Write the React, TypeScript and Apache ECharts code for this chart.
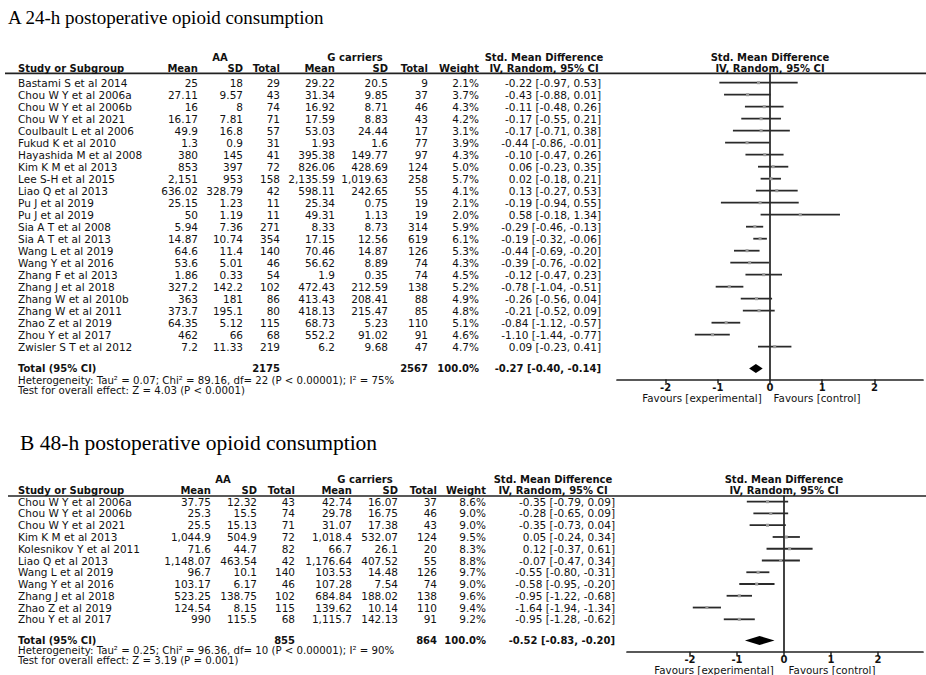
import React, { useEffect, useRef } from "react";
import * as echarts from "echarts";

// ---------- Panel A: 24-h ----------
const studiesA = [
  "Bastami S et al 2014", "Chou W Y et al 2006a", "Chou W Y et al 2006b", "Chou W Y et al 2021",
  "Coulbault L et al 2006", "Fukud K et al 2010", "Hayashida M et al 2008", "Kim K M et al 2013",
  "Lee S-H et al 2015", "Liao Q et al 2013", "Pu J et al 2019", "Pu J et al 2019",
  "Sia A T et al 2008", "Sia A T et al 2013", "Wang L et al 2019", "Wang Y et al 2016",
  "Zhang F et al 2013", "Zhang J et al 2018", "Zhang W et al 2010b", "Zhang W et al 2011",
  "Zhao Z et al 2019", "Zhou Y et al 2017", "Zwisler S T et al 2012",
];
const aaMeanA = [25, 27.11, 16, 16.17, 49.9, 1.3, 380, 853, 2151, 636.02, 25.15, 50, 5.94, 14.87, 64.6, 53.6, 1.86, 327.2, 363, 373.7, 64.35, 462, 7.2];
const aaSdA = [18, 9.57, 8, 7.81, 16.8, 0.9, 145, 397, 953, 328.79, 1.23, 1.19, 7.36, 10.74, 11.4, 5.01, 0.33, 142.2, 181, 195.1, 5.12, 66, 11.33];
const aaNA = [29, 43, 74, 71, 57, 31, 41, 72, 158, 42, 11, 11, 271, 354, 140, 46, 54, 102, 86, 80, 115, 68, 219];
const gMeanA = [29.22, 31.34, 16.92, 17.59, 53.03, 1.93, 395.38, 826.06, 2135.59, 598.11, 25.34, 49.31, 8.33, 17.15, 70.46, 56.62, 1.9, 472.43, 413.43, 418.13, 68.73, 552.2, 6.2];
const gSdA = [20.5, 9.85, 8.71, 8.83, 24.44, 1.6, 149.77, 428.69, 1019.63, 242.65, 0.75, 1.13, 8.73, 12.56, 14.87, 8.89, 0.35, 212.59, 208.41, 215.47, 5.23, 91.02, 9.68];
const gNA = [9, 37, 46, 43, 17, 77, 97, 124, 258, 55, 19, 19, 314, 619, 126, 74, 74, 138, 88, 85, 110, 91, 47];
const weightA = [2.1, 3.7, 4.3, 4.2, 3.1, 3.9, 4.3, 5.0, 5.7, 4.1, 2.1, 2.0, 5.9, 6.1, 5.3, 4.3, 4.5, 5.2, 4.9, 4.8, 5.1, 4.6, 4.7];
const smdA = [-0.22, -0.43, -0.11, -0.17, -0.17, -0.44, -0.10, 0.06, 0.02, 0.13, -0.19, 0.58, -0.29, -0.19, -0.44, -0.39, -0.12, -0.78, -0.26, -0.21, -0.84, -1.10, 0.09];
const loA = [-0.97, -0.88, -0.48, -0.55, -0.71, -0.86, -0.47, -0.23, -0.18, -0.27, -0.94, -0.18, -0.46, -0.32, -0.69, -0.76, -0.47, -1.04, -0.56, -0.52, -1.12, -1.44, -0.23];
const hiA = [0.53, 0.01, 0.26, 0.21, 0.38, -0.01, 0.26, 0.35, 0.21, 0.53, 0.55, 1.34, -0.13, -0.06, -0.20, -0.02, 0.23, -0.51, 0.04, 0.09, -0.57, -0.77, 0.41];
const totalA = { aaN: 2175, gN: 2567, smd: -0.27, lo: -0.40, hi: -0.14 };
const hetA = "Heterogeneity: Tau² = 0.07; Chi² = 89.16, df= 22 (P < 0.00001); I² = 75%";
const testA = "Test for overall effect: Z = 4.03 (P < 0.0001)";

// ---------- Panel B: 48-h ----------
const studiesB = [
  "Chou W Y et al 2006a", "Chou W Y et al 2006b", "Chou W Y et al 2021", "Kim K M et al 2013",
  "Kolesnikov Y et al 2011", "Liao Q et al 2013", "Wang L et al 2019", "Wang Y et al 2016",
  "Zhang J et al 2018", "Zhao Z et al 2019", "Zhou Y et al 2017",
];
const aaMeanB = [37.75, 25.3, 25.5, 1044.9, 71.6, 1148.07, 96.7, 103.17, 523.25, 124.54, 990];
const aaSdB = [12.32, 15.5, 15.13, 504.9, 44.7, 463.54, 10.1, 6.17, 138.75, 8.15, 115.5];
const aaNB = [43, 74, 71, 72, 82, 42, 140, 46, 102, 115, 68];
const gMeanB = [42.74, 29.78, 31.07, 1018.4, 66.7, 1176.64, 103.53, 107.28, 684.84, 139.62, 1115.7];
const gSdB = [16.07, 16.75, 17.38, 532.07, 26.1, 407.52, 14.48, 7.54, 188.02, 10.14, 142.13];
const gNB = [37, 46, 43, 124, 20, 55, 126, 74, 138, 110, 91];
const weightB = [8.6, 9.0, 9.0, 9.5, 8.3, 8.8, 9.7, 9.0, 9.6, 9.4, 9.2];
const smdB = [-0.35, -0.28, -0.35, 0.05, 0.12, -0.07, -0.55, -0.58, -0.95, -1.64, -0.95];
const loB = [-0.79, -0.65, -0.73, -0.24, -0.37, -0.47, -0.80, -0.95, -1.22, -1.94, -1.28];
const hiB = [0.09, 0.09, 0.04, 0.34, 0.61, 0.34, -0.31, -0.20, -0.68, -1.34, -0.62];
const totalB = { aaN: 855, gN: 864, smd: -0.52, lo: -0.83, hi: -0.20 };
const hetB = "Heterogeneity: Tau² = 0.25; Chi² = 96.36, df= 10 (P < 0.00001); I² = 90%";
const testB = "Test for overall effect: Z = 3.19 (P = 0.001)";

const tickValues = [-2, -1, 0, 1, 2];

const FONT = "DejaVu Sans";
const TXT = "#111111";

const fmtNum = (v: number) => v.toLocaleString("en-US", { maximumFractionDigits: 2 });
const fmtCI = (e: number, l: number, h: number) => `${e.toFixed(2)} [${l.toFixed(2)}, ${h.toFixed(2)}]`;

type Panel = {
  title: string; titleX: number; titleY: number; titleSize: number;
  studies: string[]; aaMean: number[]; aaSd: number[]; aaN: number[];
  gMean: number[]; gSd: number[]; gN: number[]; weight: number[];
  smd: number[]; lo: number[]; hi: number[];
  total: { aaN: number; gN: number; smd: number; lo: number; hi: number };
  het: string; test: string;
  lineY: number; axisY: number; rowStep: number; firstRowY: number; totalY: number;
  hetY: number; testY: number; hdr1Y: number; hdr2Y: number; lineX0: number;
  gridLeft: number; gridRight: number; xMin: number; xMax: number;
  col: { name: number; m1: number; s1: number; t1: number; m2: number; s2: number; t2: number; w: number; ci: number; aa: number; g: number; smd: number; plot: number };
  favY: number; favExpX: number; favCtlX: number;
};

const panels: Panel[] = [
  {
    title: "A 24-h postoperative opioid consumption", titleX: 8, titleY: 17, titleSize: 19,
    studies: studiesA, aaMean: aaMeanA, aaSd: aaSdA, aaN: aaNA, gMean: gMeanA, gSd: gSdA, gN: gNA,
    weight: weightA, smd: smdA, lo: loA, hi: hiA, total: totalA, het: hetA, test: testA,
    lineY: 73.3, axisY: 379.3, rowStep: 12, firstRowY: 82.7, totalY: 368.5,
    hetY: 380.5, testY: 390.5, hdr1Y: 57, hdr2Y: 68.5, lineX0: 5,
    gridLeft: 617, gridRight: 923, xMin: -2.93, xMax: 2.93,
    col: { name: 18, m1: 198, s1: 243, t1: 280, m2: 335, s2: 388, t2: 428, w: 479, ci: 601, aa: 220, g: 355, smd: 544, plot: 770 },
    favY: 397.5, favExpX: 702, favCtlX: 817,
  },
  {
    title: "B 48-h postoperative opioid consumption", titleX: 20, titleY: 443, titleSize: 21.5,
    studies: studiesB, aaMean: aaMeanB, aaSd: aaSdB, aaN: aaNB, gMean: gMeanB, gSd: gSdB, gN: gNB,
    weight: weightB, smd: smdB, lo: loB, hi: hiB, total: totalB, het: hetB, test: testB,
    lineY: 496, axisY: 651.7, rowStep: 11.76, firstRowY: 501.7, totalY: 640.5,
    hetY: 650.5, testY: 660, hdr1Y: 479.3, hdr2Y: 490.5, lineX0: 8,
    gridLeft: 627, gridRight: 923, xMin: -3.34, xMax: 2.96,
    col: { name: 18, m1: 211, s1: 257, t1: 295, m2: 352, s2: 398, t2: 437, w: 486, ci: 615, aa: 223, g: 365, smd: 553, plot: 784 },
    favY: 670, favExpX: 714, favCtlX: 832,
  },
];

function txt(text: string, x: number, y: number, opts: any = {}) {
  return {
    type: "text",
    x, y,
    silent: true,
    style: {
      text,
      fill: opts.fill || TXT,
      fontFamily: opts.fontFamily || FONT,
      fontSize: opts.fontSize || 10.5,
      fontWeight: opts.fontWeight || "normal",
      align: opts.align || "left",
      verticalAlign: "middle",
    },
  };
}

export default function App() {
  const ref = useRef<HTMLDivElement>(null);

  useEffect(() => {
    if (!ref.current) return;
    const chart = echarts.init(ref.current, null, { renderer: "svg" });

    const grids: any[] = [];
    const xAxes: any[] = [];
    const yAxes: any[] = [];
    const series: any[] = [];
    const graphics: any[] = [];

    panels.forEach((p, pi) => {
      const yMax = (p.axisY - p.lineY) / p.rowStep;
      const rowV = (i: number) => (p.firstRowY - p.lineY) / p.rowStep + i;
      const rowPx = (i: number) => p.firstRowY + i * p.rowStep;
      const totalV = (p.totalY - p.lineY) / p.rowStep;

      grids.push({ left: p.gridLeft, top: p.lineY, width: p.gridRight - p.gridLeft, height: p.axisY - p.lineY, containLabel: false });
      xAxes.push({
        type: "value", gridIndex: pi, min: p.xMin, max: p.xMax, position: "bottom",
        axisLine: { onZero: false, lineStyle: { color: "#222", width: 1.7 } },
        axisTick: { show: true, customValues: tickValues, length: 4, lineStyle: { color: "#222", width: 1.5 } },
        axisLabel: { customValues: tickValues, fontSize: 10, fontWeight: "bold", color: TXT, fontFamily: FONT, margin: 3 },
        splitLine: { show: false },
      });
      yAxes.push({
        type: "value", gridIndex: pi, min: 0, max: yMax, inverse: true,
        axisLine: { show: true, onZero: true, lineStyle: { color: "#222", width: 1.7 } },
        axisTick: { show: false }, axisLabel: { show: false }, splitLine: { show: false },
      });

      series.push({
        type: "custom", xAxisIndex: pi, yAxisIndex: pi, clip: false,
        data: p.studies.map((_, i) => [p.smd[i], p.lo[i], p.hi[i], rowV(i)]),
        encode: { x: [0, 1, 2], y: 3 },
        renderItem: (params: any, api: any) => {
          const y = api.value(3);
          const a = api.coord([api.value(1), y]);
          const b = api.coord([api.value(2), y]);
          const e = api.coord([api.value(0), y]);
          return {
            type: "group",
            children: [
              { type: "line", shape: { x1: a[0], y1: a[1], x2: b[0], y2: b[1] }, style: { stroke: "#2a2a2a", lineWidth: 1.8 } },
              { type: "rect", shape: { x: e[0] - 1.5, y: e[1] - 1.5, width: 3, height: 3 }, style: { fill: "#9a9a9a" } },
            ],
          };
        },
      });
      series.push({
        type: "custom", xAxisIndex: pi, yAxisIndex: pi, clip: false,
        data: [[p.total.smd, p.total.lo, p.total.hi, totalV]],
        encode: { x: [0, 1, 2], y: 3 },
        renderItem: (params: any, api: any) => {
          const y = api.value(3);
          const l = api.coord([api.value(1), y]);
          const r = api.coord([api.value(2), y]);
          const c = api.coord([api.value(0), y]);
          const h = 4.5;
          return {
            type: "polygon",
            shape: { points: [[l[0], l[1]], [c[0], c[1] - h], [r[0], r[1]], [c[0], c[1] + h]] },
            style: { fill: "#000" },
          };
        },
      });

      graphics.push(txt(p.title, p.titleX, p.titleY, { fontFamily: "Liberation Serif", fontSize: p.titleSize, fill: "#000" }));
      graphics.push({ type: "line", silent: true, shape: { x1: p.lineX0, y1: p.lineY, x2: 926, y2: p.lineY }, style: { stroke: "#222", lineWidth: 1.7 } });
      const c = p.col;
      const hb = { fontWeight: "bold", fontSize: 10 };
      graphics.push(txt("AA", c.aa, p.hdr1Y, { ...hb, align: "center" }));
      graphics.push(txt("G carriers", c.g, p.hdr1Y, { ...hb, align: "center" }));
      graphics.push(txt("Std. Mean Difference", c.smd, p.hdr1Y, { ...hb, align: "center" }));
      graphics.push(txt("Std. Mean Difference", c.plot, p.hdr1Y, { ...hb, align: "center" }));
      graphics.push(txt("Study or Subgroup", c.name, p.hdr2Y, hb));
      graphics.push(txt("Mean", c.m1, p.hdr2Y, { ...hb, align: "right" }));
      graphics.push(txt("SD", c.s1, p.hdr2Y, { ...hb, align: "right" }));
      graphics.push(txt("Total", c.t1, p.hdr2Y, { ...hb, align: "right" }));
      graphics.push(txt("Mean", c.m2, p.hdr2Y, { ...hb, align: "right" }));
      graphics.push(txt("SD", c.s2, p.hdr2Y, { ...hb, align: "right" }));
      graphics.push(txt("Total", c.t2, p.hdr2Y, { ...hb, align: "right" }));
      graphics.push(txt("Weight", c.w, p.hdr2Y, { ...hb, align: "right" }));
      graphics.push(txt("IV, Random, 95% CI", c.smd, p.hdr2Y, { ...hb, align: "center" }));
      graphics.push(txt("IV, Random, 95% CI", c.plot, p.hdr2Y, { ...hb, align: "center" }));

      p.studies.forEach((s, i) => {
        const y = rowPx(i);
        graphics.push(txt(s, c.name, y));
        graphics.push(txt(fmtNum(p.aaMean[i]), c.m1, y, { align: "right" }));
        graphics.push(txt(fmtNum(p.aaSd[i]), c.s1, y, { align: "right" }));
        graphics.push(txt(String(p.aaN[i]), c.t1, y, { align: "right" }));
        graphics.push(txt(fmtNum(p.gMean[i]), c.m2, y, { align: "right" }));
        graphics.push(txt(fmtNum(p.gSd[i]), c.s2, y, { align: "right" }));
        graphics.push(txt(String(p.gN[i]), c.t2, y, { align: "right" }));
        graphics.push(txt(p.weight[i].toFixed(1) + "%", c.w, y, { align: "right" }));
        graphics.push(txt(fmtCI(p.smd[i], p.lo[i], p.hi[i]), c.ci, y, { align: "right" }));
      });

      const tb = { fontWeight: "bold", fontSize: 10 };
      graphics.push(txt("Total (95% CI)", c.name, p.totalY, tb));
      graphics.push(txt(String(p.total.aaN), c.t1, p.totalY, { ...tb, align: "right" }));
      graphics.push(txt(String(p.total.gN), c.t2, p.totalY, { ...tb, align: "right" }));
      graphics.push(txt("100.0%", c.w, p.totalY, { ...tb, align: "right" }));
      graphics.push(txt(fmtCI(p.total.smd, p.total.lo, p.total.hi), c.ci, p.totalY, { ...tb, align: "right" }));
      graphics.push(txt(p.het, c.name, p.hetY, { fontSize: 10.2 }));
      graphics.push(txt(p.test, c.name, p.testY, { fontSize: 10.2 }));
      graphics.push(txt("Favours [experimental]", p.favExpX, p.favY, { fontSize: 10.3, align: "center" }));
      graphics.push(txt("Favours [control]", p.favCtlX, p.favY, { fontSize: 10.3, align: "center" }));
    });

    chart.setOption({
      animation: false,
      backgroundColor: "#ffffff",
      grid: grids,
      xAxis: xAxes,
      yAxis: yAxes,
      series,
      graphic: { elements: graphics },
    });

    return () => chart.dispose();
  }, []);

  return (
    <div
      ref={ref}
      style={{ position: "fixed", left: 0, top: 0, width: 926, height: 675, background: "#fff" }}
    />
  );
}
